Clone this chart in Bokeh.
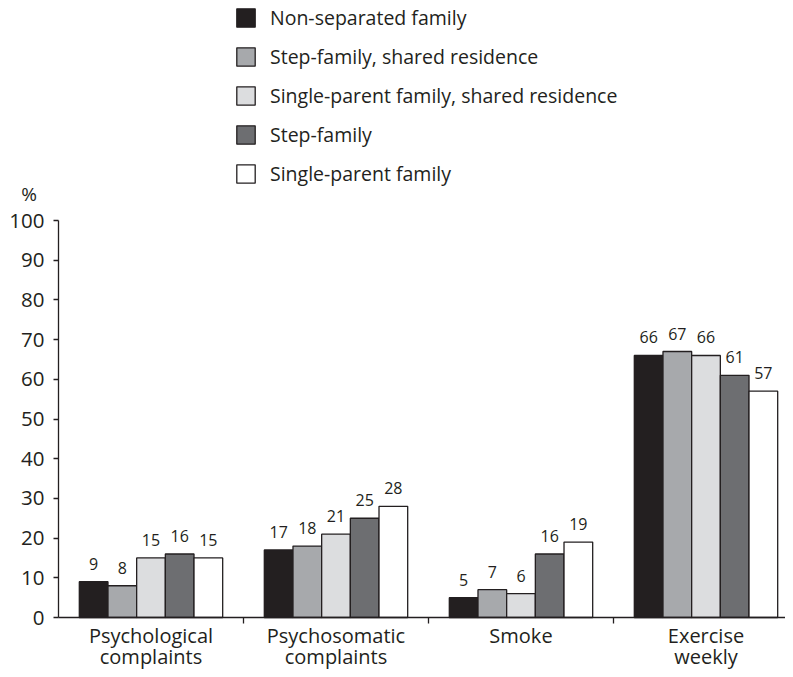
from bokeh.plotting import figure
from bokeh.models import (Range1d, FixedTicker, Legend, LegendItem, Label,
                          ColumnDataSource)
from bokeh.core.properties import value
from bokeh.embed import file_html
from bokeh.resources import INLINE

categories = ["Psychological\ncomplaints", "Psychosomatic\ncomplaints", "Smoke", "Exercise\nweekly"]
series_names = ["Non-separated family", "Step-family, shared residence",
                "Single-parent family, shared residence", "Step-family", "Single-parent family"]
non_separated = [9, 17, 5, 66]
step_shared = [8, 18, 7, 67]
single_shared = [15, 21, 6, 66]
step_family = [16, 25, 16, 61]
single_parent = [15, 28, 19, 57]
series_values = [non_separated, step_shared, single_shared, step_family, single_parent]
colors = ["#231f20", "#a7a9ac", "#dcdddf", "#6d6e71", "#ffffff"]
y_ticks = [0, 10, 20, 30, 40, 50, 60, 70, 80, 90, 100]

FONT = "Open Sans"
OUT = "#231f20"
W, H = 785, 669
AXIS_X = 58          # canvas x of the value axis
AXIS_Y = 617         # canvas y of the zero line
group_px = 185.0
unit_px = 3.97

p = figure(width=W, height=H, output_backend="svg", toolbar_location=None,
           x_range=Range1d(-AXIS_X / group_px, (W - AXIS_X) / group_px),
           y_range=Range1d(-(H - AXIS_Y) / unit_px, AXIS_Y / unit_px),
           min_border=0, min_border_left=0, min_border_right=0,
           min_border_top=0, min_border_bottom=0)
p.outline_line_color = None
p.grid.visible = False
p.background_fill_color = "white"

bar_w = 0.155
items = []
for i, (name, vals, col) in enumerate(zip(series_names, series_values, colors)):
    xs = [g + 0.5 + (i - 2) * bar_w for g in range(len(categories))]
    src = ColumnDataSource(dict(x=xs, top=vals, lab=[str(v) for v in vals]))
    r = p.vbar(x="x", top="top", width=bar_w, bottom=0, source=src,
               fill_color=col, line_color=OUT, line_width=1.3)
    p.text(x="x", y="top", text="lab", source=src, y_offset=-12,
           text_align="center", text_baseline="bottom",
           text_font=value(FONT), text_font_size="16px", text_color=OUT)
    items.append(LegendItem(label=name, renderers=[r]))

legend = Legend(items=items, location=(234, 482), orientation="vertical",
                glyph_width=23, glyph_height=23, label_height=23, spacing=12,
                label_standoff=13, padding=0, margin=0,
                border_line_color=None, background_fill_alpha=0,
                label_text_font=FONT, label_text_font_size="19.5px",
                label_text_color=OUT, label_text_baseline="middle")
p.add_layout(legend, "center")

p.add_layout(Label(x=-0.159, y=106.7, text="%", text_align="center",
                   text_baseline="middle", text_font=FONT,
                   text_font_size="19px", text_color=OUT))

# y axis (fixed at x = 0)
ya = p.yaxis[0]
ya.fixed_location = 0
ya.bounds = (0, 100)
ya.ticker = FixedTicker(ticks=y_ticks, minor_ticks=[])
ya.major_tick_out = 5
ya.major_tick_in = 0
ya.minor_tick_out = 0
ya.major_label_standoff = 9
ya.axis_line_color = OUT
ya.axis_line_width = 1.3
ya.major_tick_line_color = OUT
ya.major_tick_line_width = 1.3
ya.major_label_text_font = FONT
ya.major_label_text_font_size = "20.5px"
ya.major_label_text_color = OUT

# x axis (fixed at y = 0)
xa = p.xaxis[0]
xa.fixed_location = 0
xa.bounds = (0, (W - AXIS_X) / group_px)
centers = [g + 0.5 for g in range(len(categories))]
xa.ticker = FixedTicker(ticks=centers, minor_ticks=[1, 2, 3])
xa.major_label_overrides = {c: lab for c, lab in zip(centers, categories)}
xa.major_tick_out = 0
xa.major_tick_in = 0
xa.minor_tick_out = 6
xa.minor_tick_in = 0
xa.major_label_standoff = -2
xa.axis_line_color = OUT
xa.axis_line_width = 1.3
xa.minor_tick_line_color = OUT
xa.minor_tick_line_width = 1.3
xa.major_label_text_font = FONT
xa.major_label_text_font_size = "20px"
xa.major_label_text_color = OUT
xa.major_label_text_line_height = 0.8

open("out.html", "w").write(file_html(p, INLINE))
